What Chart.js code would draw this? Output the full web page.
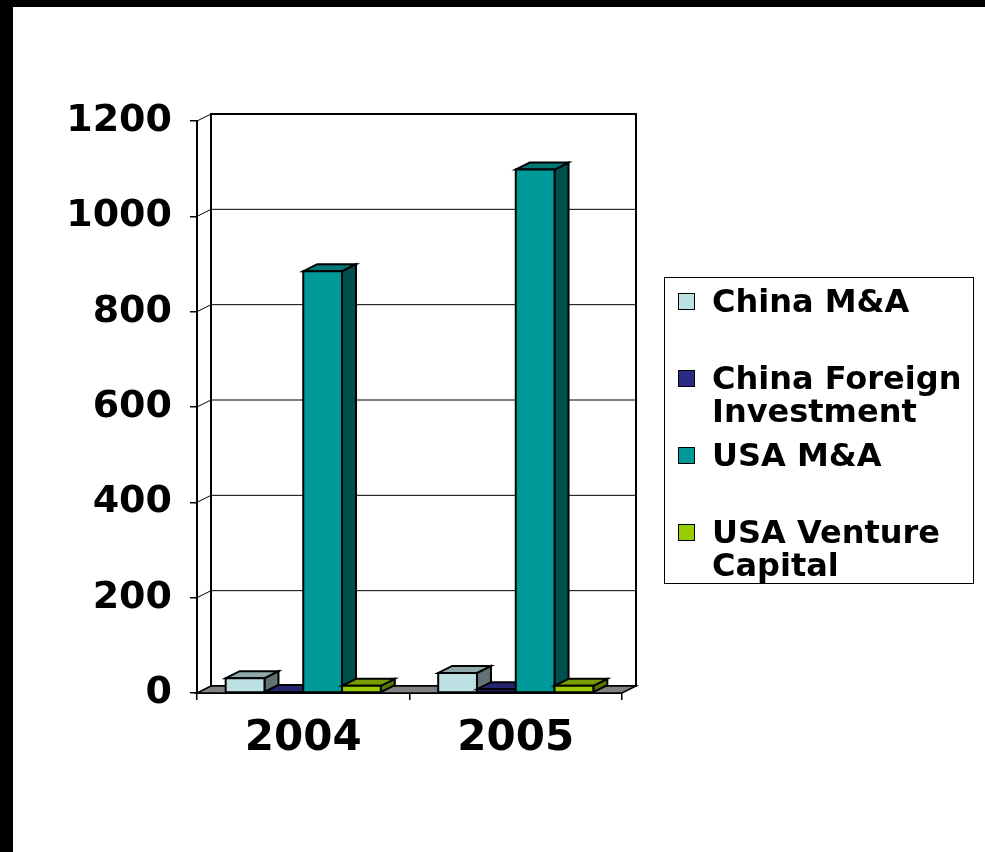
<!DOCTYPE html>
<html>
<head>
<meta charset="utf-8">
<script src="https://cdn.jsdelivr.net/npm/chart.js@4"></script>
<style>
  body { margin: 0; background: #fff; font-family: "DejaVu Sans", sans-serif; }
  #wrap { position: relative; width: 985px; height: 852px; overflow: hidden; }
  #edgeTop { position: absolute; left: 0; top: 0; width: 985px; height: 7px; background: #000; }
  #edgeLeft { position: absolute; left: 0; top: 0; width: 13px; height: 852px; background: #000; }
  #legend {
    position: absolute; left: 664px; top: 277px; width: 310px; height: 307px;
    border: 1.5px solid #000; padding-top: 7px; box-sizing: border-box;
  }
  .item { position: relative; height: 77px; }
  .box { position: absolute; left: 13px; top: 8px; width: 15px; height: 15px; border: 1.5px solid #000; }
  .txt { position: absolute; left: 47px; top: 0; width: 262px; font-weight: bold; font-size: 32px; line-height: 33px; color: #000; }
</style>
</head>
<body>
<div id="wrap">
  <canvas id="chart" width="985" height="852"></canvas>
  <div id="edgeTop"></div>
  <div id="edgeLeft"></div>
  <div id="legend"></div>
</div>
<script>
// categories and values (billions)
const years = ["2004", "2005"];
const seriesNames = ["China M&A", "China Foreign Investment", "USA M&A", "USA Venture Capital"];
const chinaMA = [31, 42];
const chinaForeign = [2, 8];
const usaMA = [885, 1098];
const usaVC = [15, 15];
const yTicks = [0, 200, 400, 600, 800, 1000, 1200];

// face colours per series: front, top, side
const frontColors = ["#bde0e3", "#2b2b85", "#009999", "#99cc00"];
const topColors = ["#8fa9ab", "#24246f", "#007777", "#779d00"];
const sideColors = ["#607273", "#16164a", "#004f4f", "#5a7800"];

// depth of the fake 3d
const DX = 14;
const DY = -7;

const seriesValues = [chinaMA, chinaForeign, usaMA, usaVC];

function poly(ctx, pts, fill) {
    ctx.beginPath();
    ctx.moveTo(pts[0][0], pts[0][1]);
    for (let i = 1; i < pts.length; i++) ctx.lineTo(pts[i][0], pts[i][1]);
    ctx.closePath();
    ctx.fillStyle = fill;
    ctx.fill();
    ctx.stroke();
}

const depthPlugin = {
    id: "depth3d",
    beforeDatasetsDraw(chart) {
        const ctx = chart.ctx;
        const a = chart.chartArea;
        const y = chart.scales.y;
        ctx.save();
        ctx.strokeStyle = "#000";
        ctx.lineJoin = "miter";

        // grid lines on the back wall and the left wall
        ctx.lineWidth = 1;
        yTicks.forEach(v => {
            const py = y.getPixelForValue(v);
            ctx.beginPath();
            ctx.moveTo(a.left, py);
            ctx.lineTo(a.left + DX, py + DY);
            ctx.lineTo(a.right + DX, py + DY);
            ctx.stroke();
        });

        // back wall border
        ctx.lineWidth = 2;
        ctx.strokeRect(a.left + DX, a.top + DY, a.right - a.left, a.bottom - a.top);

        // floor
        ctx.lineWidth = 1.5;
        poly(ctx, [[a.left, a.bottom], [a.right, a.bottom], [a.right + DX, a.bottom + DY], [a.left + DX, a.bottom + DY]], "#808080");

        // bars, left to right so the next front face hides the side
        ctx.lineWidth = 2;
        for (let j = 0; j < years.length; j++) {
            for (let i = 0; i < seriesValues.length; i++) {
                const el = chart.getDatasetMeta(i).data[j];
                const p = el.getProps(["x", "y", "base", "width"], true);
                const x0 = p.x - p.width / 2, x1 = p.x + p.width / 2;
                const yt = p.y, yb = p.base;
                poly(ctx, [[x1, yt], [x1 + DX, yt + DY], [x1 + DX, yb + DY], [x1, yb]], sideColors[i]);
                poly(ctx, [[x0, yt], [x1, yt], [x1 + DX, yt + DY], [x0 + DX, yt + DY]], topColors[i]);
                poly(ctx, [[x0, yt], [x1, yt], [x1, yb], [x0, yb]], frontColors[i]);
            }
        }
        ctx.restore();
        return false;
    }
};

Chart.defaults.font.family = "'DejaVu Sans', sans-serif";
Chart.defaults.color = "#000";

const chart = new Chart(document.getElementById("chart"), {
    type: "bar",
    data: {
        labels: years,
        datasets: seriesNames.map((name, i) => ({
            label: name,
            data: seriesValues[i],
            backgroundColor: frontColors[i],
            categoryPercentage: 0.73,
            barPercentage: 1.0
        }))
    },
    options: {
        responsive: false,
        animation: false,
        devicePixelRatio: 1,
        layout: { padding: { left: 0, top: 121, right: 363, bottom: 0 } },
        plugins: { legend: { display: false }, tooltip: { enabled: false } },
        scales: {
            x: {
                grid: { drawOnChartArea: false, drawTicks: true, tickLength: 7, color: "#000", lineWidth: 1.5, offset: true },
                border: { display: true, color: "#000", width: 2 },
                ticks: { font: { size: 42, weight: "bold" }, padding: 14, color: "#000" },
                afterFit: s => { s.height = 159; }
            },
            y: {
                min: 0,
                max: 1200,
                grid: { drawOnChartArea: false, drawTicks: true, tickLength: 7, color: "#000", lineWidth: 1.5 },
                border: { display: true, color: "#000", width: 2 },
                ticks: {
                    stepSize: 200,
                    font: { size: 38, weight: "bold" },
                    padding: 18,
                    color: "#000",
                    callback: v => String(v)
                },
                afterFit: s => { s.width = 197; }
            }
        }
    },
    plugins: [depthPlugin]
});

// legend built from the same series
const legendDiv = document.getElementById("legend");
seriesNames.forEach((name, i) => {
    const item = document.createElement("div");
    item.className = "item";
    item.innerHTML = `<div class="box" style="background:${frontColors[i]}"></div><div class="txt">${name.replace("&", "&amp;")}</div>`;
    legendDiv.appendChild(item);
});
</script>
</body>
</html>
